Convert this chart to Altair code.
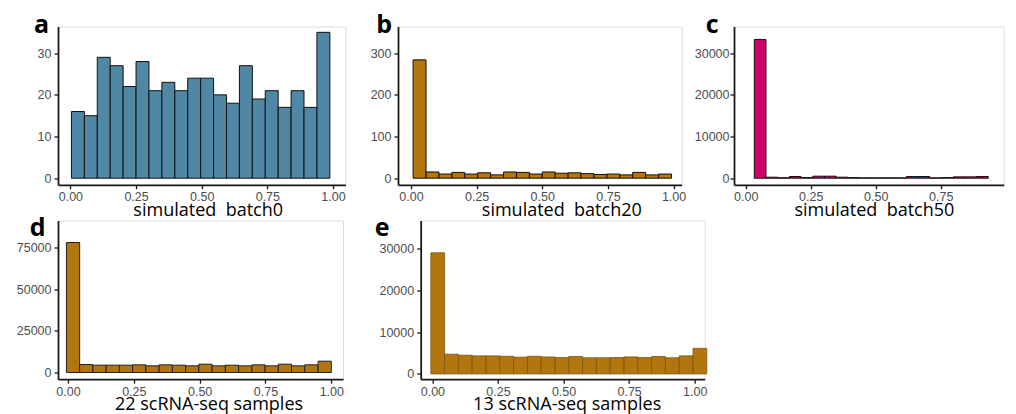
import altair as alt
import pandas as pd

# ---- data (histogram counts per bin) ----
a_counts = [16, 15, 29, 27, 22, 28, 21, 23, 21, 24, 24, 20, 18, 27, 19, 21, 17, 21, 17, 35]
b_counts = [284, 15, 10, 14, 10, 13, 8, 15, 14, 10, 15, 12, 13, 11, 9, 10, 8, 14, 8, 10]
c_counts = [33300, 240, 100, 400, 150, 480, 480, 240, 150, 80, 80, 80, 80, 400, 400, 80, 150, 320, 320, 400]
d_counts = [78000, 4800, 4400, 4400, 4400, 4600, 4000, 4600, 4400, 4000, 5000, 4000, 4400, 4000, 4600, 4000, 5000, 4000, 4600, 6800]
e_counts = [28900, 4700, 4460, 4300, 4300, 4200, 4000, 4200, 4050, 3900, 4150, 3850, 3850, 3900, 4050, 3900, 4150, 3850, 4300, 6100]

# bin start and bin width for each panel
a_bins = (0.004, 0.0492)
b_bins = (0.008, 0.0492)
c_bins = (0.033, 0.045)
d_bins = (-0.006, 0.0503)
e_bins = (-0.006, 0.0526)

x_ticks = [0, 0.25, 0.5, 0.75, 1.0]
a_yticks = [0, 10, 20, 30]
b_yticks = [0, 100, 200, 300]
c_yticks = [0, 10000, 20000, 30000]
d_yticks = [0, 25000, 50000, 75000]
e_yticks = [0, 10000, 20000, 30000]

NB = "\u00a0"
titles = ["simulated" + NB + NB + "batch0", "simulated" + NB + NB + "batch20",
          "simulated" + NB + NB + "batch50",
          "22 scRNA-seq samples", "13 scRNA-seq samples"]
letters = ["a", "b", "c", "d", "e"]

BLUE = "#5087a4"
GOLD = "#b3760e"
PINK = "#d0006b"


def panel(counts, bins, color, stroke, sw, xdom, ydom, yvals, W, H, title,
          letter, lx, ly, title_dx, label_pad=3):
    start, width = bins
    lo = [start + i * width for i in range(len(counts))]
    df = pd.DataFrame({"lo": lo, "hi": [v + width for v in lo], "n": counts})
    bars = alt.Chart(df).mark_rect(fill=color, stroke=stroke, strokeWidth=sw).encode(
        x=alt.X("lo:Q",
                scale=alt.Scale(domain=xdom, nice=False, zero=False),
                axis=alt.Axis(values=x_ticks, format=".2f", title=title,
                              titleX=W / 2 + title_dx)),
        x2="hi:Q",
        y=alt.Y("n:Q",
                scale=alt.Scale(domain=ydom, nice=False, zero=False),
                axis=alt.Axis(values=yvals, format="d", title=None,
                              labelPadding=label_pad)),
        y2=alt.datum(0),
    )
    lab = alt.Chart(pd.DataFrame({"t": [letter]})).mark_text(
        align="left", baseline="alphabetic", fontSize=25, fontWeight="bold",
        font="Open Sans", color="black"
    ).encode(x=alt.value(lx), y=alt.value(ly), text="t:N")
    return alt.layer(bars, lab).properties(width=W, height=H)


H1 = 158.3
H2 = 158.7

pa = panel(a_counts, a_bins, BLUE, "#111111", 1, [-0.0472, 1.0472], [-1.58, 36.4],
           a_yticks, 287.4, H1, titles[0], letters[0], -24, 6.7, 6)
pb = panel(b_counts, b_bins, GOLD, "#111111", 1, [-0.0495, 1.0305], [-15.8, 364],
           b_yticks, 283.6, H1, titles[1], letters[1], -21.7, 6.7, 21.5)
pc = panel(c_counts, c_bins, PINK, "#111111", 1, [-0.045, 0.9923], [-1584, 36408],
           c_yticks, 269.7, H1, titles[2], letters[2], -28.3, 6.7, 5, label_pad=1)
pd_ = panel(d_counts, d_bins, GOLD, "#222222", 1, [-0.038, 1.0444], [-4020, 91200],
            d_yticks, 285, H2, titles[3], letters[3], -28.3, 15.7, 8)
pe = panel(e_counts, e_bins, GOLD, "#7a5410", 0.8, [-0.0446, 1.038], [-1265, 36616],
           e_yticks, 284, H2, titles[4], letters[4], -46, 15.7, 4)

row1 = alt.hconcat(pa, pb, pc, spacing=52, bounds="flush")
row2 = alt.hconcat(pd_, pe, spacing=77.7, bounds="flush")

chart = alt.vconcat(row1, row2, spacing=-8).configure(
    padding={"left": 7, "top": 4.5, "right": 0, "bottom": 0},
    background="white",
).configure_view(
    stroke="#dcdcdc", strokeWidth=1
).configure_axis(
    grid=False,
    domainColor="#1a1a1a", domainWidth=1.8,
    tickColor="#1a1a1a", tickWidth=1.3, tickSize=4,
    labelColor="#4d4d4d", labelFont="Liberation Sans", labelFontSize=12.5,
    titleColor="black", titleFont="Open Sans", titleFontSize=18,
    titleFontWeight="normal",
).configure_axisX(
    labelPadding=2, titlePadding=-2,
)

chart.save("out.html", embed_options={"renderer": "svg", "actions": False})
